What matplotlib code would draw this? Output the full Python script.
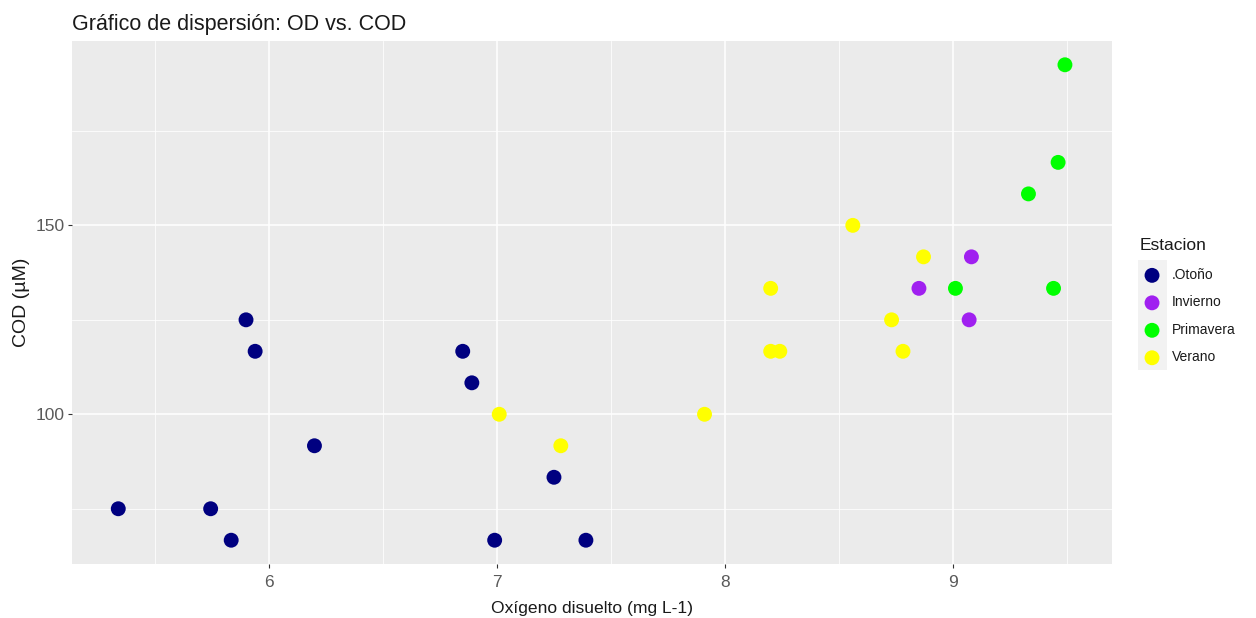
import matplotlib.pyplot as plt
from matplotlib.patches import Rectangle
from matplotlib.ticker import MultipleLocator

plt.rcParams['font.family'] = ['Liberation Sans', 'DejaVu Sans']

# datos (OD en mg/L, COD en uM)
estaciones = ['.Otoño', 'Invierno', 'Primavera', 'Verano']
colores = ['#000080', '#A020F0', '#00FF00', '#FFFF00']

od_otono = [5.34, 5.745, 5.835, 5.90, 5.94, 6.20, 6.85, 6.89, 6.99, 7.25, 7.39]
cod_otono = [75.0, 75.0, 66.67, 125.0, 116.67, 91.67, 116.67, 108.33, 66.67, 83.33, 66.67]

od_invierno = [8.85, 9.07, 9.08]
cod_invierno = [133.33, 125.0, 141.67]

od_primavera = [9.01, 9.33, 9.44, 9.46, 9.49]
cod_primavera = [133.33, 158.33, 133.33, 166.67, 192.5]

od_verano = [7.01, 7.28, 7.91, 8.20, 8.20, 8.24, 8.56, 8.73, 8.78, 8.87]
cod_verano = [100.0, 91.67, 100.0, 133.33, 116.67, 116.67, 150.0, 125.0, 116.67, 141.67]

series = [(od_otono, cod_otono), (od_invierno, cod_invierno),
          (od_primavera, cod_primavera), (od_verano, cod_verano)]

fig = plt.figure(figsize=(12.56, 6.18), dpi=100)
ax = fig.add_axes([0.0573, 0.0874, 0.828, 0.8463])
ax.set_facecolor('#EBEBEB')

for (x, y), lab, col in zip(series, estaciones, colores):
    ax.scatter(x, y, s=115, color=col, label=lab, edgecolors='none', zorder=3)

ax.set_xlim(5.137, 9.696)
ax.set_ylim(60.38, 198.8)
ax.xaxis.set_major_locator(MultipleLocator(1))
ax.xaxis.set_minor_locator(MultipleLocator(0.5))
ax.yaxis.set_major_locator(MultipleLocator(50))
ax.yaxis.set_minor_locator(MultipleLocator(25))
ax.grid(which='major', color='white', linewidth=1.1, zorder=0)
ax.grid(which='minor', color='white', linewidth=0.55, zorder=0)
ax.set_axisbelow(True)
for s in ax.spines.values():
    s.set_visible(False)
ax.tick_params(which='major', length=3, width=0.8, color='#333333',
               labelcolor='#5A5A5A', labelsize=12.5)
ax.tick_params(axis='x', pad=5)
ax.tick_params(axis='y', pad=2)
ax.tick_params(which='minor', length=0)

ax.set_xlabel('Oxígeno disuelto (mg L-1)', fontsize=12.6, color='#1A1A1A', labelpad=8)
ax.set_ylabel('COD (µM)', fontsize=14, color='#1A1A1A', labelpad=4)
ax.set_title('Gráfico de dispersión: OD vs. COD', loc='left', fontsize=15.5,
             color='#1A1A1A', pad=8)

# leyenda: titulo aparte y claves con fondo gris
fig.text(1140 / 1256, 1 - 245 / 618, 'Estacion', fontsize=12.5, color='#1A1A1A',
         ha='left', va='center')
leg = ax.legend(loc='upper left', bbox_to_anchor=(1142.3 / 1256, 1 - 268 / 618),
                bbox_transform=fig.transFigure, frameon=False, fontsize=10,
                handletextpad=0.74, labelspacing=0.97, handlelength=1.4,
                borderaxespad=0, borderpad=0)
for t in leg.get_texts():
    t.set_color('#1A1A1A')
fig.patches.append(Rectangle((1138 / 1256, 1 - 370 / 618), 29 / 1256, 110 / 618,
                             transform=fig.transFigure, facecolor='#F2F2F2',
                             edgecolor='none', zorder=-1))

fig.savefig('out.png', dpi=100)
